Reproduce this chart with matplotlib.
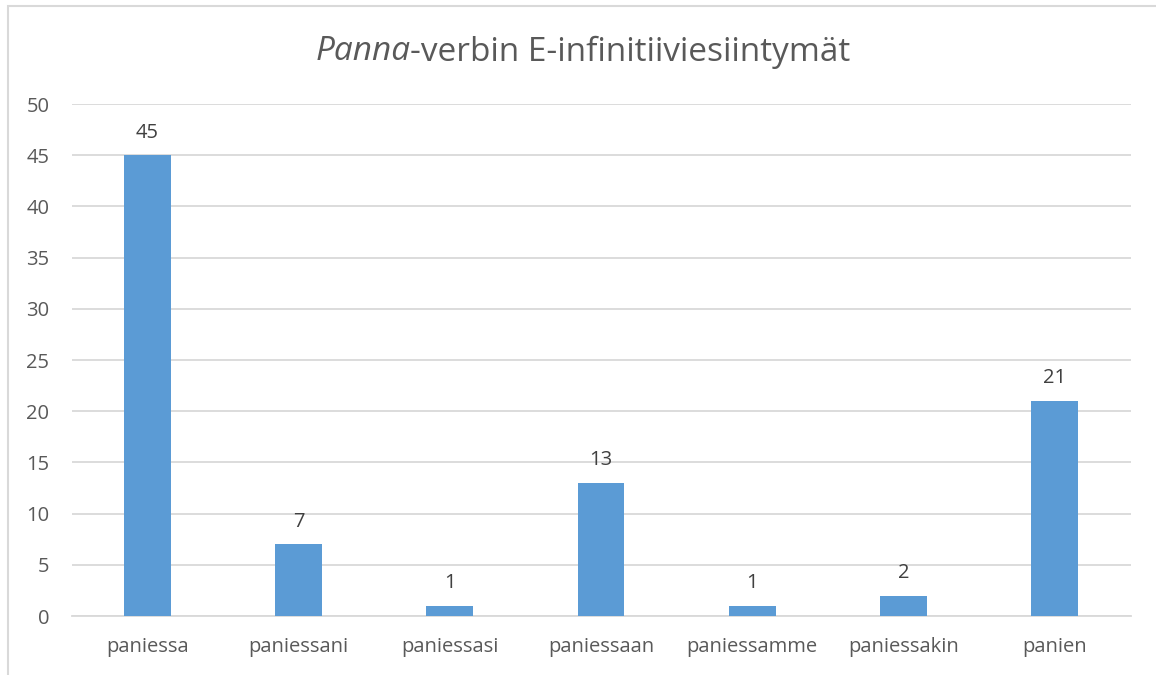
import matplotlib
matplotlib.use("Agg")
import matplotlib.pyplot as plt
from matplotlib.patches import Rectangle

categories = ["paniessa", "paniessani", "paniessasi", "paniessaan", "paniessamme", "paniessakin", "panien"]
values = [45, 7, 1, 13, 1, 2, 21]
yticks = [0, 5, 10, 15, 20, 25, 30, 35, 40, 45, 50]

plt.rcParams['font.family'] = ['Open Sans', 'DejaVu Sans']
text_color = "#595959"
bar_color = "#5B9BD5"
grid_color = "#D9D9D9"

fig = plt.figure(figsize=(11.56, 6.75), dpi=100)
fig.patches.append(Rectangle((7.5/1156, -0.1), 1.2, (675-5.5)/675 + 0.1, transform=fig.transFigure,
                             fill=False, edgecolor="#D9D9D9", linewidth=1.5))
ax = fig.add_axes([71.5/1156, (675-616)/675, (1130.5-71.5)/1156, (616-104)/675])

x = list(range(len(categories)))
bars = ax.bar(x, values, width=0.31, color=bar_color, zorder=3)
for xi, v in zip(x, values):
    ax.annotate(str(v), (xi, v), xytext=(0, 9), textcoords="offset points",
                ha="center", va="bottom", fontsize=14.5, color="#404040")

ax.set_xlim(-0.5, len(categories) - 0.5)
ax.set_ylim(0, 50)
ax.set_yticks(yticks)
ax.set_xticks(x)
ax.set_xticklabels(categories)
ax.tick_params(axis='both', length=0, labelsize=14.5, colors=text_color)
ax.tick_params(axis='x', pad=15)
ax.tick_params(axis='y', pad=16)
ax.grid(axis='y', color=grid_color, linewidth=1.3, zorder=0)
for s in ax.spines.values():
    s.set_visible(False)
ax.spines['bottom'].set_visible(True)
ax.spines['bottom'].set_color(grid_color)
ax.spines['bottom'].set_linewidth(1.3)

# Title with italic first part
ty = 1 - 52/675
t1 = fig.text(0, ty, "Panna", fontsize=24, color=text_color, style='italic', va='center', ha='left')
t2 = fig.text(0, ty, "-verbin E-infinitiiviesiintymät", fontsize=24, color=text_color, va='center', ha='left')
fig.canvas.draw()
r = fig.canvas.get_renderer()
w1 = t1.get_window_extent(r).width
w2 = t2.get_window_extent(r).width
total = w1 + w2
start = 583 - total / 2
t1.set_x(start / 1156)
t2.set_x((start + w1) / 1156)

fig.savefig("out.png", dpi=100)
